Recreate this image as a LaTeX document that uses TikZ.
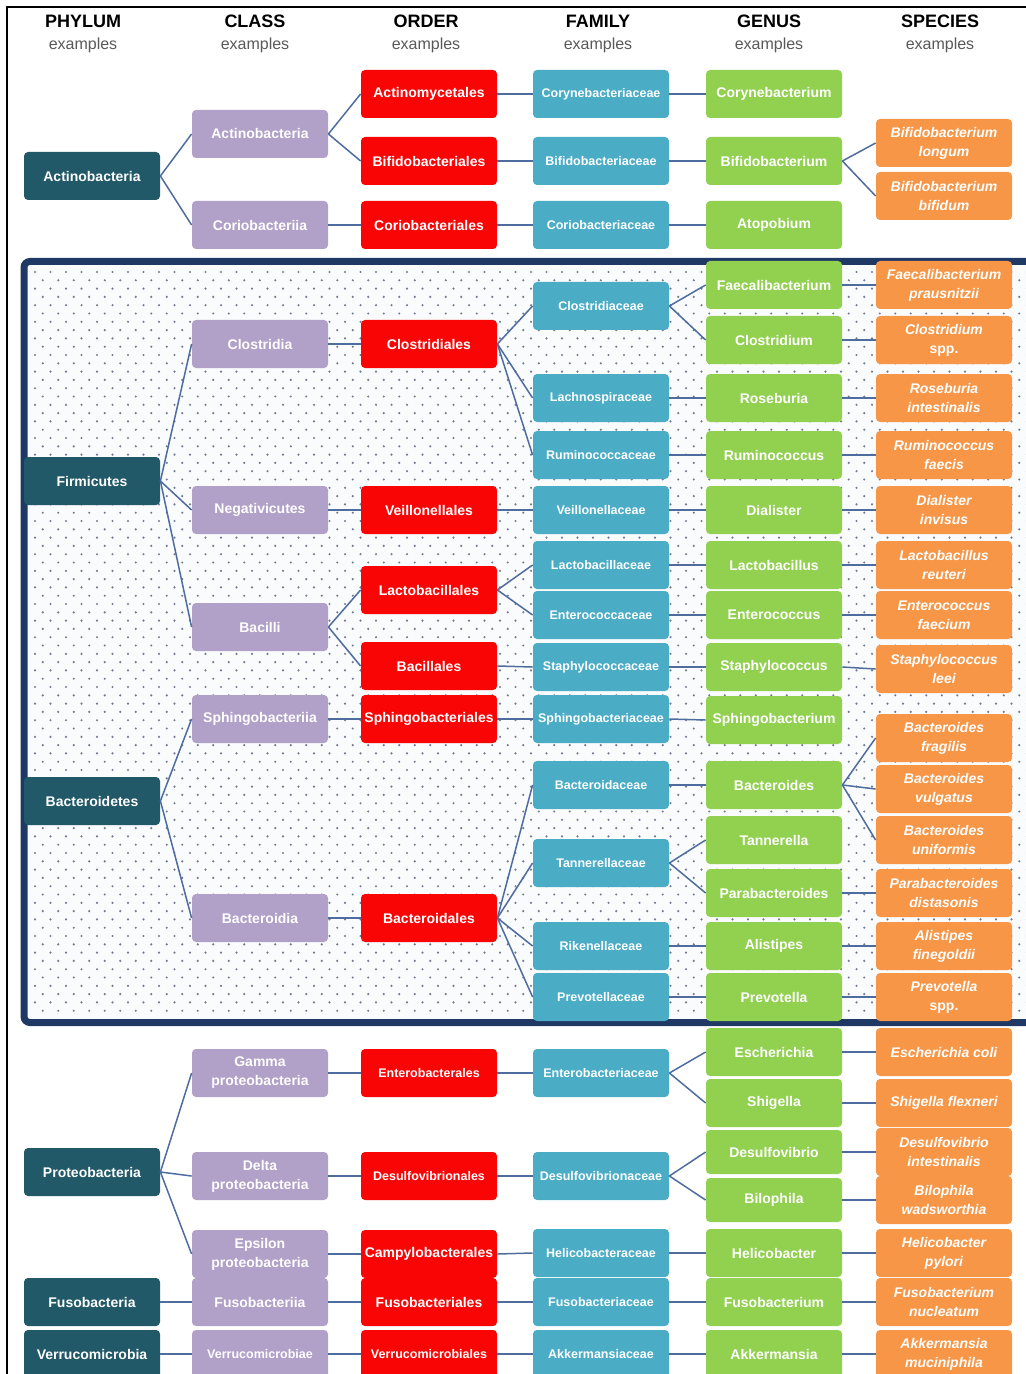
\documentclass[tikz,border=0pt]{standalone}
\usepackage{fontspec}
\setmainfont{Liberation Sans}
\usepackage{tikz}
\usepackage{xcolor}

\definecolor{phyc}{RGB}{33,89,104}
\definecolor{clsc}{RGB}{177,160,199}
\definecolor{ordc}{RGB}{250,5,5}
\definecolor{famc}{RGB}{75,172,198}
\definecolor{genc}{RGB}{146,208,80}
\definecolor{spcc}{RGB}{247,150,70}
\definecolor{linkc}{RGB}{79,108,158}
\definecolor{navyc}{RGB}{31,56,100}
\definecolor{dotc}{RGB}{115,125,145}
\definecolor{dotbg}{RGB}{249,251,253}

\tikzset{
  box/.style={rounded corners=2pt, minimum width=68pt, minimum height=24pt, inner sep=1pt,
    text=white, align=center, font=\bfseries\fontsize{7}{9.5}\selectfont},
  phy/.style={box, fill=phyc},
  cls/.style={box, fill=clsc},
  ord/.style={box, fill=ordc},
  fam/.style={box, fill=famc, font=\bfseries\fontsize{6.25}{8}\selectfont},
  gen/.style={box, fill=genc},
  spc/.style={box, fill=spcc, font=\bfseries\itshape\fontsize{7}{9.5}\selectfont},
  small/.style={font=\bfseries\fontsize{6.25}{8}\selectfont},
  link/.style={draw=linkc, line width=0.75pt}
}

\begin{document}
\begin{tikzpicture}[x=0.5pt, y=-0.5pt]
        \useasboundingbox (0,0) rectangle (1026,1374);
        \clip (0,0) rectangle (1026,1374);
        % frame and the dotted block
        \draw[black, line width=1pt] (7,1390) -- (7,7) -- (1040,7);
        \draw[navyc, line width=3.5pt, rounded corners=3pt, fill=dotbg] (24,261.5) rectangle (1050,1022.5);
        \foreach \r in {0,...,89}
        \foreach \c in {0,...,64}
        \fill[dotc] ({35+15.5*\c+7.75*mod(\r,2)},{272+8.3*\r}) circle (0.6pt);
        % headings
        \foreach \n/\x/\t in {phy/83/PHYLUM, cls/255/CLASS, ord/426/ORDER, fam/598/FAMILY, gen/769/GENUS, spc/940/SPECIES}
        {
          \node[font=\bfseries\fontsize{9}{10}\selectfont] (\n H) at (\x,21) {\t};
          \node[font=\fontsize{8}{9}\selectfont, text=black!65] (\n E) at (\x,45) {examples};
        }
        % phylum
        \foreach \n/\y/\t in {actP/176/Actinobacteria, firP/481/Firmicutes, bacP/801/Bacteroidetes,
          proP/1172/Proteobacteria, fusP/1302/Fusobacteria, verP/1354/Verrucomicrobia}
        \node[phy] (\n) at (92,\y) {\t};
        % class
        \foreach \n/\y/\t in {actC/134/Actinobacteria, corC/225/Coriobacteriia, cloC/344/Clostridia,
          negC/510/Negativicutes, bacC/627/Bacilli, sphC/719/Sphingobacteriia, bdiC/918/Bacteroidia,
          gamC/1073/Gamma\\proteobacteria, delC/1176/Delta\\proteobacteria,
          epsC/1254/Epsilon\\proteobacteria, fusC/1302/Fusobacteriia}
        \node[cls] (\n) at (260,\y) {\t};
        \node[cls, small] (verC) at (260,1354) {Verrucomicrobiae};
        % order
        \foreach \n/\y/\t in {actO/94/Actinomycetales, bifO/161/Bifidobacteriales, corO/225/Coriobacteriales,
          cloO/344/Clostridiales, veiO/510/Veillonellales, lacO/590/Lactobacillales, bciO/666/Bacillales,
          sphO/719/Sphingobacteriales, bdiO/918/Bacteroidales, camO/1254/Campylobacterales,
          fusO/1302/Fusobacteriales}
        \node[ord] (\n) at (429,\y) {\t};
        \foreach \n/\y/\t in {entO/1073/Enterobacterales, desO/1176/Desulfovibrionales, verO/1354/Verrucomicrobiales}
        \node[ord, small] (\n) at (429,\y) {\t};
        % family
        \foreach \n/\y/\t in {coryF/94/Corynebacteriaceae, bifF/161/Bifidobacteriaceae, corF/225/Coriobacteriaceae,
          cloF/306/Clostridiaceae, lacnF/398/Lachnospiraceae, rumF/455/Ruminococcaceae,
          veiF/510/Veillonellaceae, lacF/565/Lactobacillaceae, entcF/615/Enterococcaceae,
          staF/667/Staphylococcaceae, sphF/719/Sphingobacteriaceae, bdiF/785/Bacteroidaceae,
          tanF/863/Tannerellaceae, rikF/946/Rikenellaceae, preF/997/Prevotellaceae,
          entF/1073/Enterobacteriaceae, desF/1176/Desulfovibrionaceae, helF/1253/Helicobacteraceae,
          fusF/1302/Fusobacteriaceae, akkF/1354/Akkermansiaceae}
        \node[fam] (\n) at (601,\y) {\t};
        % genus
        \foreach \n/\y/\t in {coryG/94/Corynebacterium, bifG/161/Bifidobacterium, atoG/225/Atopobium,
          faeG/285/Faecalibacterium, cloG/340/Clostridium, rosG/398/Roseburia, rumG/455/Ruminococcus,
          diaG/510/Dialister, lacG/565/Lactobacillus, entcG/615/Enterococcus, staG/667/Staphylococcus,
          sphG/720/Sphingobacterium, bdiG/785/Bacteroides, tanG/840/Tannerella,
          parG/893/Parabacteroides, aliG/946/Alistipes, preG/997/Prevotella, escG/1052/Escherichia,
          shiG/1103/Shigella, helG/1253/Helicobacter, fusG/1302/Fusobacterium, akkG/1354/Akkermansia}
        \node[gen] (\n) at (774,\y) {\t};
        \foreach \n/\y/\t in {desG/1152/Desulfovibrio, bilG/1200/Bilophila}
        \node[gen, minimum height=22pt] (\n) at (774,\y) {\t};
        % species
        \foreach \n/\y/\t in {lonS/143/Bifidobacterium\\longum, bifS/196/Bifidobacterium\\bifidum,
          faeS/285/Faecalibacterium\\prausnitzii, cloS/340/Clostridium\\\upshape spp.,
          rosS/398/Roseburia\\intestinalis, rumS/455/Ruminococcus\\faecis, diaS/510/Dialister\\invisus,
          lacS/565/Lactobacillus\\reuteri, entcS/615/Enterococcus\\faecium, staS/669/Staphylococcus\\leei,
          fraS/738/Bacteroides\\fragilis, vulS/789/Bacteroides\\vulgatus, uniS/840/Bacteroides\\uniformis,
          parS/893/Parabacteroides\\distasonis, aliS/946/Alistipes\\finegoldii, preS/997/Prevotella\\\upshape spp.,
          escS/1052/Escherichia coli, shiS/1103/Shigella flexneri, desS/1152/Desulfovibrio\\intestinalis,
          bilS/1200/Bilophila\\wadsworthia, helS/1253/Helicobacter\\pylori,
          fusS/1302/Fusobacterium\\nucleatum, akkS/1354/Akkermansia\\muciniphila}
        \node[spc] (\n) at (944,\y) {\t};
        % connectors
        \foreach \a/\b in {actP/actC, actP/corC, actC/actO, actC/bifO, corC/corO, actO/coryF, bifO/bifF,
          corO/corF, coryF/coryG, bifF/bifG, corF/atoG, bifG/lonS, bifG/bifS,
          firP/cloC, firP/negC, firP/bacC, cloC/cloO, negC/veiO, bacC/lacO, bacC/bciO,
          cloO/cloF, cloO/lacnF, cloO/rumF, veiO/veiF, lacO/lacF, lacO/entcF, bciO/staF,
          cloF/faeG, cloF/cloG, lacnF/rosG, rumF/rumG, veiF/diaG, lacF/lacG, entcF/entcG, staF/staG,
          faeG/faeS, cloG/cloS, rosG/rosS, rumG/rumS, diaG/diaS, lacG/lacS, entcG/entcS, staG/staS,
          bacP/sphC, bacP/bdiC, sphC/sphO, bdiC/bdiO, sphO/sphF, bdiO/bdiF, bdiO/tanF, bdiO/rikF,
          bdiO/preF, sphF/sphG, bdiF/bdiG, tanF/tanG, tanF/parG, rikF/aliG, preF/preG,
          bdiG/fraS, bdiG/vulS, bdiG/uniS, parG/parS, aliG/aliS, preG/preS,
          proP/gamC, proP/delC, proP/epsC, gamC/entO, delC/desO, epsC/camO, fusP/fusC, fusC/fusO,
          verP/verC, verC/verO, entO/entF, desO/desF, camO/helF, fusO/fusF, verO/akkF,
          entF/escG, entF/shiG, desF/desG, desF/bilG, helF/helG, fusF/fusG, akkF/akkG,
          escG/escS, shiG/shiS, desG/desS, bilG/bilS, helG/helS, fusG/fusS, akkG/akkS}
        \draw[link] (\a.east) -- (\b.west);
\end{tikzpicture}
\end{document}
